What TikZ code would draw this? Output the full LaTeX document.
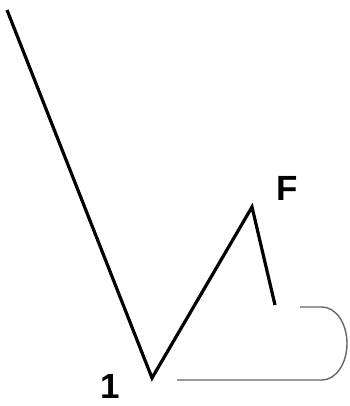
\documentclass[tikz,border=0pt]{standalone}
\usepackage{fontspec}
\setmainfont{Liberation Sans}
\usetikzlibrary{positioning}

\begin{document}
\begin{tikzpicture}[
    x=1pt, y=-1pt,
    % Styles
    stroke/.style={draw=black, line width=3.2pt, line join=miter},
    loopline/.style={draw=black!60, line width=1.4pt},
    pointlabel/.style={font=\bfseries\fontsize{35}{35}\selectfont, inner sep=0pt},
  ]
  \useasboundingbox (0,0) rectangle (349,406);

  % === Main zigzag ===
  \coordinate (top) at (7,10);
  \coordinate (low) at (152,378);
  \coordinate (peak) at (252,207);
  \coordinate (tail) at (275,305);
  \draw[stroke] (top) -- (low) -- (peak) -- (tail);

  % Labels
  \node[pointlabel] (one) at (110,386) {1};
  \node[pointlabel] (eff) at (287,188) {F};

  % === Return loop ===
  \coordinate (loopin) at (300,307);
  \coordinate (loopout) at (177,380);
  \draw[loopline] (loopin) -- (322,307)
    arc[start angle=-90, end angle=90, x radius=25, y radius=36.5]
    -- (loopout);

\end{tikzpicture}
\end{document}
